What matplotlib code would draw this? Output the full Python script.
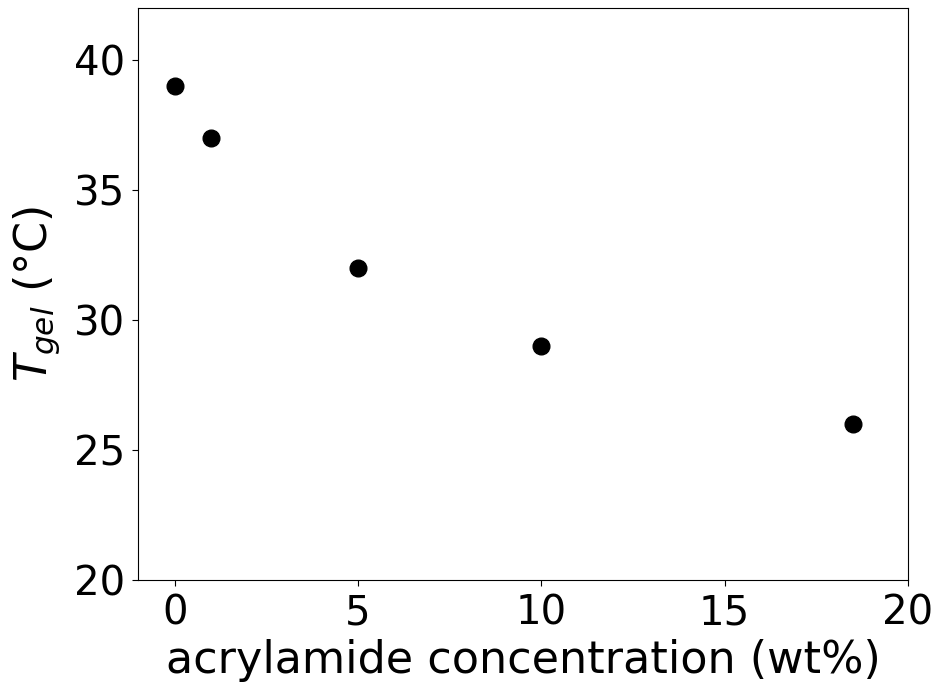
import matplotlib
matplotlib.use('Agg')
import matplotlib.pyplot as plt

# Acrylamide content (wt%) and gelation temperature (deg C)
acrylamide_wt = [0, 1, 5, 10, 18.5]
t_gel = [39, 37, 32, 29, 26]

fig = plt.figure(figsize=(9.36, 6.84), dpi=100)
ax = fig.add_axes([0.1474, 0.152, 0.8226, 0.836])

ax.plot(acrylamide_wt, t_gel, 'o', color='k', markersize=12)

ax.set_xlim(-1, 20)
ax.set_ylim(20, 42)
ax.set_xticks([0, 5, 10, 15, 20])
ax.set_yticks([20, 25, 30, 35, 40])
ax.tick_params(labelsize=29, length=4.5, pad=5)

ax.set_xlabel('acrylamide concentration (wt%)', fontsize=32, labelpad=4)
ax.set_ylabel(r'$T_{gel}$ (°C)', fontsize=32, labelpad=8)

fig.savefig('out.png', dpi=100)
